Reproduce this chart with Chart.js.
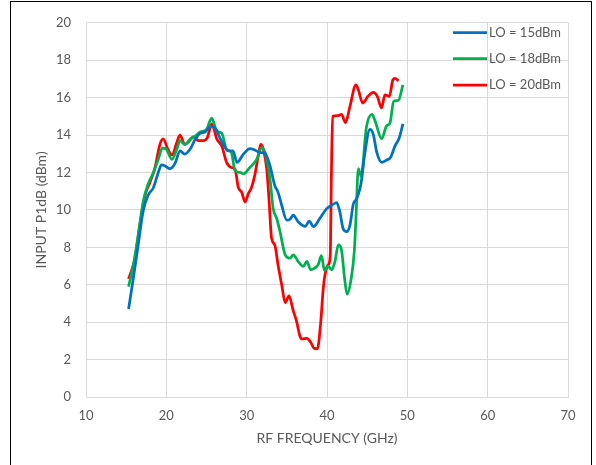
<!DOCTYPE html>
<html>
<head>
<meta charset="utf-8">
<script src="https://cdn.jsdelivr.net/npm/chart.js@4/dist/chart.umd.min.js"></script>
<style>
  html, body { margin: 0; padding: 0; background: #fff; }
</style>
</head>
<body>
<canvas id="p1db-chart" width="596" height="465"></canvas>
<script>
// RF frequency (GHz) and input P1dB (dBm) for each LO drive level
var freq15 = [15.3, 15.9, 16.5, 17.1, 17.75, 18.4, 19.0, 19.4, 19.8, 20.45, 21.1, 21.7, 22.3, 22.95, 23.6, 24.2, 24.8, 25.5, 26.2, 26.6,
              27.1, 27.7, 28.3, 28.8, 29.6, 30.4, 31.0, 31.66, 32.28, 32.9, 33.5, 33.9, 34.36, 35.0, 35.4, 35.8, 36.4, 37.3, 37.8, 38.3,
              39.1, 39.96, 40.6, 41.2, 41.6, 42.0, 42.45, 42.86, 43.27, 43.7, 44.1, 44.3, 44.7, 45.35, 45.76, 46.2, 46.8, 47.4, 47.9, 48.47,
              49.0, 49.45];
var p1db15 = [4.7, 6.37, 8.13, 9.9, 10.8, 11.2, 12.0, 12.4, 12.36, 12.2, 12.5, 13.16, 12.98, 13.24, 13.77, 14.09, 14.16, 14.45, 14.3, 13.9,
              13.5, 13.16, 13.16, 12.54, 12.98, 13.28, 13.2, 13.07, 13.03, 12.36, 11.3, 10.95, 10.25, 9.45, 9.5, 9.72, 9.37, 9.12, 9.4, 9.1,
              9.54, 10.07, 10.25, 10.39, 9.9, 9.01, 8.84, 9.19, 10.3, 10.6, 11.13, 11.6, 13.0, 14.3, 14.04, 13.07, 12.54, 12.66, 12.8, 13.42,
              13.86, 14.6];

var freq18 = [15.3, 15.9, 16.5, 17.1, 17.75, 18.4, 19.0, 19.5, 20.0, 20.7, 21.3, 21.7, 22.3, 22.95, 23.6, 24.2, 25.0, 25.65, 26.3, 26.9,
              27.5, 28.1, 28.55, 29.2, 29.6, 30.4, 31.25, 31.87, 32.28, 32.9, 33.3, 33.74, 34.15, 34.8, 35.4, 35.8, 36.4, 37.05, 37.5, 37.97,
              38.5, 38.9, 39.3, 39.7, 40.1, 40.6, 41.0, 41.4, 41.8, 42.2, 42.5, 43.0, 43.4, 43.6, 43.9, 44.25, 44.9, 45.6, 46.0, 46.8,
              47.4, 47.85, 48.3, 48.9, 49.45];
var p1db18 = [5.9, 7.07, 8.66, 10.4, 11.4, 12.0, 12.7, 13.3, 13.24, 12.7, 13.24, 13.7, 13.5, 13.77, 13.95, 14.16, 14.3, 14.9, 14.2, 14.1,
              13.24, 13.07, 12.1, 12.0, 11.92, 12.27, 12.7, 13.33, 13.07, 11.65, 10.07, 9.54, 8.84, 7.6, 7.42, 7.6, 7.25, 6.98, 7.25, 6.8,
              6.9, 7.07, 7.55, 6.75, 7.0, 6.8, 7.25, 8.13, 7.87, 6.3, 5.49, 6.3, 7.8, 9.5, 12.2, 11.8, 14.4, 15.1, 14.74, 13.8,
              14.48, 14.66, 15.8, 15.86, 16.68];

var freq20 = [15.3, 16.1, 16.7, 17.35, 17.97, 18.6, 19.2, 19.6, 20.2, 20.7, 21.3, 21.7, 22.3, 22.7, 23.35, 24.0, 24.6, 25.1, 25.65, 26.3,
              26.9, 27.5, 28.1, 28.55, 28.96, 29.38, 29.8, 30.2, 30.6, 31.0, 31.45, 31.75, 32.07, 32.5, 32.8, 33.1, 33.5, 33.9, 34.36, 34.8,
              35.27, 35.8, 36.2, 36.6, 36.85, 37.5, 37.97, 38.4, 38.8, 39.2, 39.54, 39.75, 40.16, 40.4, 40.55, 40.7, 41.4, 41.8, 42.3, 42.86,
              43.6, 43.9, 44.45, 45.1, 45.76, 46.26, 46.8, 47.2, 47.76, 48.2, 48.47, 48.9];
var p1db20 = [6.31, 7.42, 9.19, 10.78, 11.48, 12.27, 13.5, 13.8, 13.24, 12.93, 13.6, 14.0, 13.5, 13.6, 13.9, 13.7, 13.7, 13.86, 14.6, 13.77,
              13.42, 12.54, 12.27, 12.18, 11.2, 10.95, 10.42, 10.86, 11.2, 11.83, 12.9, 13.5, 13.24, 12.18, 10.42, 8.48, 8.13, 7.07, 6.0, 5.04,
              5.4, 4.6, 4.07, 3.3, 3.1, 3.14, 2.93, 2.6, 2.58, 3.9, 5.84, 6.54, 7.07, 7.5, 12.0, 15.0, 15.04, 15.1, 14.66, 15.54,
              16.68, 16.42, 15.71, 16.07, 16.28, 16.07, 15.45, 16.15, 16.07, 16.95, 17.03, 16.9];

var seriesLabels = ['LO = 15dBm', 'LO = 18dBm', 'LO = 20dBm'];
var seriesColors = ['#0070C0', '#00B050', '#FF0000'];

var textColor = '#595959';
var gridColor = '#D9D9D9';
var fontFamily = 'Lato, "Open Sans", sans-serif';

function points(xs, ys) {
    var out = [];
    for (var i = 0; i < xs.length; i++) out.push({x: xs[i], y: ys[i]});
    return out;
}

// outer chart frame
var framePlugin = {
    id: 'frame',
    beforeDraw: function (chart) {
        var ctx = chart.ctx;
        ctx.save();
        ctx.strokeStyle = '#000';
        ctx.lineWidth = 1;
        ctx.strokeRect(10.5, 1.5, 581, 480);
        ctx.restore();
    }
};

// legend sits inside the plot, top right
var legendPlugin = {
    id: 'insideLegend',
    afterDatasetsDraw: function (chart) {
        var ctx = chart.ctx;
        var ys = [32.5, 58.5, 85];
        ctx.save();
        ctx.font = '13px ' + fontFamily;
        ctx.textBaseline = 'middle';
        ctx.textAlign = 'left';
        chart.data.datasets.forEach(function (ds, i) {
            ctx.strokeStyle = ds.borderColor;
            ctx.lineWidth = 2.75;
            ctx.beginPath();
            ctx.moveTo(453, ys[i]);
            ctx.lineTo(487, ys[i]);
            ctx.stroke();
            ctx.fillStyle = textColor;
            ctx.fillText(ds.label, 489, ys[i]);
        });
        ctx.restore();
    }
};

var datasets = [
    points(freq15, p1db15),
    points(freq18, p1db18),
    points(freq20, p1db20)
].map(function (d, i) {
    return {
        label: seriesLabels[i],
        data: d,
        borderColor: seriesColors[i],
        backgroundColor: seriesColors[i],
        borderWidth: 2.75,
        pointRadius: 0,
        fill: false,
        cubicInterpolationMode: 'monotone'
    };
});

var chart = new Chart(document.getElementById('p1db-chart'), {
    type: 'line',
    data: { datasets: datasets },
    plugins: [framePlugin, legendPlugin],
    options: {
        responsive: false,
        animation: false,
        layout: { padding: { left: 0, right: 28, top: 19, bottom: 0 } },
        plugins: {
            legend: { display: false },
            tooltip: { enabled: false }
        },
        scales: {
            x: {
                type: 'linear',
                min: 10,
                max: 70,
                ticks: { stepSize: 10, padding: 11, color: textColor, font: { family: fontFamily, size: 13 } },
                grid: { color: gridColor, drawTicks: false },
                border: { color: gridColor },
                title: {
                    display: true,
                    text: 'RF FREQUENCY (GHz)',
                    color: textColor,
                    font: { family: fontFamily, size: 14 },
                    padding: { top: 0, bottom: 18 }
                },
                afterFit: function (scale) { scale.height = 68; }
            },
            y: {
                min: 0,
                max: 20,
                ticks: { stepSize: 2, padding: 15, color: textColor, font: { family: fontFamily, size: 13 } },
                grid: { color: gridColor, drawTicks: false },
                border: { color: gridColor },
                title: {
                    display: true,
                    text: 'INPUT P1dB (dBm)',
                    color: textColor,
                    font: { family: fontFamily, size: 14 },
                    padding: { top: 33, bottom: 0 }
                },
                afterFit: function (scale) { scale.width = 86; }
            }
        }
    }
});
</script>
</body>
</html>
